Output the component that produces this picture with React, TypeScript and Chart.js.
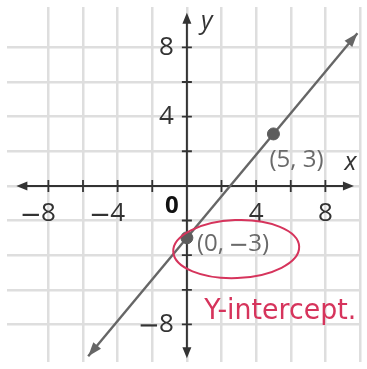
import { useEffect, useRef } from "react";
import { Chart, registerables } from "chart.js";

Chart.register(...registerables);

// Line y = 1.2x − 3, drawn between its two arrow tips
const lineX = [-5.7, 9.85];
const lineY = [-9.84, 8.82];

// Labelled points on the line
const pointX = [0, 5];
const pointY = [-3, 3];
const pointLabels = ["(0, −3)", "(5, 3)"];

// Axis numbers
const xTickValues = [-8, -4, 4, 8];
const xTickLabels = ["−8", "−4", "4", "8"];
const yTickValues = [8, 4, -8];
const yTickLabels = ["8", "4", "−8"];
const originLabel = "0";
const noteText = "Y-intercept.";

const RED = "#d6345c";
const INK = "#333333";

function arrowHead(ctx: CanvasRenderingContext2D, tx: number, ty: number, fx: number, fy: number, len: number, half: number) {
  const a = Math.atan2(ty - fy, tx - fx);
  const bx = tx - len * Math.cos(a);
  const by = ty - len * Math.sin(a);
  ctx.beginPath();
  ctx.moveTo(tx, ty);
  ctx.lineTo(bx + half * Math.sin(a), by - half * Math.cos(a));
  ctx.lineTo(bx - half * Math.sin(a), by + half * Math.cos(a));
  ctx.closePath();
  ctx.fill();
}

// Draws a label whose minus sign is stretched to a long dash
function drawLongMinus(ctx: CanvasRenderingContext2D, text: string, x: number, y: number, align: "left" | "right") {
  const parts = text.split("−");
  const dashW = ctx.measureText("8").width * 1.1;
  const widths = parts.map((p) => ctx.measureText(p).width);
  const total = widths.reduce((a, b) => a + b, 0) + (parts.length - 1) * (dashW + 3);
  let cx = align === "left" ? x : x - total;
  const saved = ctx.textAlign;
  ctx.textAlign = "left";
  parts.forEach((p, i) => {
    ctx.fillText(p, cx, y);
    cx += widths[i];
    if (i < parts.length - 1) {
      const th = Math.max(2, parseFloat(ctx.font.replace(/^\D*/, "")) * 0.085);
      ctx.fillRect(cx + 1, y - th / 2 + 1, dashW, th);
      cx += dashW + 3;
    }
  });
  ctx.textAlign = saved;
}

const axesPlugin = {
  id: "coordAxes",
  beforeDatasetsDraw(chart: any) {
    const { ctx } = chart;
    const x = chart.scales.x;
    const y = chart.scales.y;
    const ox = x.getPixelForValue(0);
    const oy = y.getPixelForValue(0);
    ctx.save();
    ctx.strokeStyle = INK;
    ctx.fillStyle = INK;
    ctx.lineWidth = 2;

    const xl = x.getPixelForValue(-9.85);
    const xr = x.getPixelForValue(9.65);
    const yt = y.getPixelForValue(10.0);
    const yb = y.getPixelForValue(-9.95);

    ctx.beginPath();
    ctx.moveTo(xl + 4, oy);
    ctx.lineTo(xr - 4, oy);
    ctx.moveTo(ox, yt + 4);
    ctx.lineTo(ox, yb - 4);
    ctx.stroke();
    arrowHead(ctx, xl, oy, ox, oy, 11, 4.5);
    arrowHead(ctx, xr, oy, ox, oy, 11, 4.5);
    arrowHead(ctx, ox, yt, ox, oy, 11, 4.5);
    arrowHead(ctx, ox, yb, ox, oy, 11, 4.5);

    // tick marks every 2 units
    ctx.lineWidth = 1.8;
    ctx.beginPath();
    for (let v = -8; v <= 8; v += 2) {
      if (v === 0) continue;
      const px = x.getPixelForValue(v);
      ctx.moveTo(px, oy - 6);
      ctx.lineTo(px, oy + 6);
      const py = y.getPixelForValue(v);
      ctx.moveTo(ox - 5, py);
      ctx.lineTo(ox + 5, py);
    }
    ctx.stroke();
    ctx.restore();
  },
  afterDatasetsDraw(chart: any) {
    const { ctx } = chart;
    const x = chart.scales.x;
    const y = chart.scales.y;
    const ox = x.getPixelForValue(0);
    const oy = y.getPixelForValue(0);
    ctx.save();

    // arrowheads on the line
    ctx.fillStyle = "#666666";
    const p0x = x.getPixelForValue(lineX[0]);
    const p0y = y.getPixelForValue(lineY[0]);
    const p1x = x.getPixelForValue(lineX[1]);
    const p1y = y.getPixelForValue(lineY[1]);
    arrowHead(ctx, p0x, p0y, p1x, p1y, 14, 5);
    arrowHead(ctx, p1x, p1y, p0x, p0y, 14, 5);

    // axis numbers
    ctx.fillStyle = INK;
    ctx.font = '26px "Open Sans"';
    ctx.textBaseline = "middle";
    const digitW = ctx.measureText("8").width;
    xTickValues.forEach((v, i) => {
      drawLongMinus(ctx, xTickLabels[i], x.getPixelForValue(v) + digitW / 2, oy + 28, "right");
    });
    yTickValues.forEach((v, i) => {
      drawLongMinus(ctx, yTickLabels[i], ox - 13, y.getPixelForValue(v), "right");
    });
    ctx.fillStyle = "#111111";
    ctx.font = 'bold 24px "Open Sans"';
    ctx.textAlign = "center";
    ctx.fillText(originLabel, ox - 15, oy + 20);

    // axis names
    ctx.fillStyle = INK;
    ctx.font = 'italic 25px "Open Sans"';
    ctx.fillText("y", ox + 20, y.getPixelForValue(9.45));
    ctx.fillText("x", x.getPixelForValue(9.1) + 6, oy - 23);

    // point labels
    ctx.fillStyle = "#6a6a6a";
    ctx.font = '24px "Open Sans"';
    drawLongMinus(ctx, pointLabels[0], x.getPixelForValue(pointX[0]) + 10, y.getPixelForValue(pointY[0]) + 6, "left");
    drawLongMinus(ctx, pointLabels[1], x.getPixelForValue(pointX[1]) - 4, y.getPixelForValue(pointY[1]) + 26, "left");

    // red ring round the intercept label
    ctx.strokeStyle = RED;
    ctx.lineWidth = 2;
    ctx.beginPath();
    ctx.ellipse(x.getPixelForValue(2.85), y.getPixelForValue(-3.65), 63, 29, -0.04, 0, Math.PI * 2);
    ctx.stroke();

    // handwritten note
    ctx.fillStyle = RED;
    ctx.font = '28px "DejaVu Sans"';
    ctx.textAlign = "left";
    const w = ctx.measureText(noteText).width;
    const nx = x.getPixelForValue(1.0);
    const ny = y.getPixelForValue(-7.25);
    ctx.translate(nx, ny);
    ctx.scale(152 / w, 1);
    ctx.fillText(noteText, 0, 0);
    ctx.restore();
  },
};

export default function App() {
  const canvasRef = useRef<HTMLCanvasElement | null>(null);

  useEffect(() => {
    const canvas = canvasRef.current;
    if (!canvas) return;
    const keepEven = (scale: any) => {
      scale.ticks = scale.ticks.filter((t: any) => Math.abs(t.value / 2 - Math.round(t.value / 2)) < 1e-6);
    };
    const chart = new Chart(canvas, {
      type: "scatter",
      data: {
        datasets: [
          {
            data: pointX.map((v, i) => ({ x: v, y: pointY[i] })),
            pointRadius: 6,
            pointBackgroundColor: "#5c5c5c",
            pointBorderColor: "#5c5c5c",
            showLine: false,
          },
          {
            data: lineX.map((v, i) => ({ x: v, y: lineY[i] })),
            showLine: true,
            pointRadius: 0,
            borderColor: "#666666",
            borderWidth: 2.4,
          },
        ],
      },
      options: {
        responsive: false,
        animation: false,
        layout: { padding: 0 },
        plugins: { legend: { display: false }, tooltip: { enabled: false } },
        scales: {
          x: {
            type: "linear",
            min: -10.39,
            max: 10,
            afterBuildTicks: keepEven,
            ticks: { display: false, stepSize: 2 },
            grid: { color: "#dedede", lineWidth: 2.5, drawTicks: false },
            border: { display: false },
          },
          y: {
            type: "linear",
            min: -10.17,
            max: 10.33,
            afterBuildTicks: keepEven,
            ticks: { display: false, stepSize: 2 },
            grid: { color: "#dedede", lineWidth: 2.5, drawTicks: false },
            border: { display: false },
          },
        },
      },
      plugins: [axesPlugin],
    });
    return () => chart.destroy();
  }, []);

  return (
    <div style={{ position: "absolute", left: 0, top: 0, width: 367, height: 369, background: "#ffffff" }}>
      <canvas ref={canvasRef} width={367} height={369} />
    </div>
  );
}
